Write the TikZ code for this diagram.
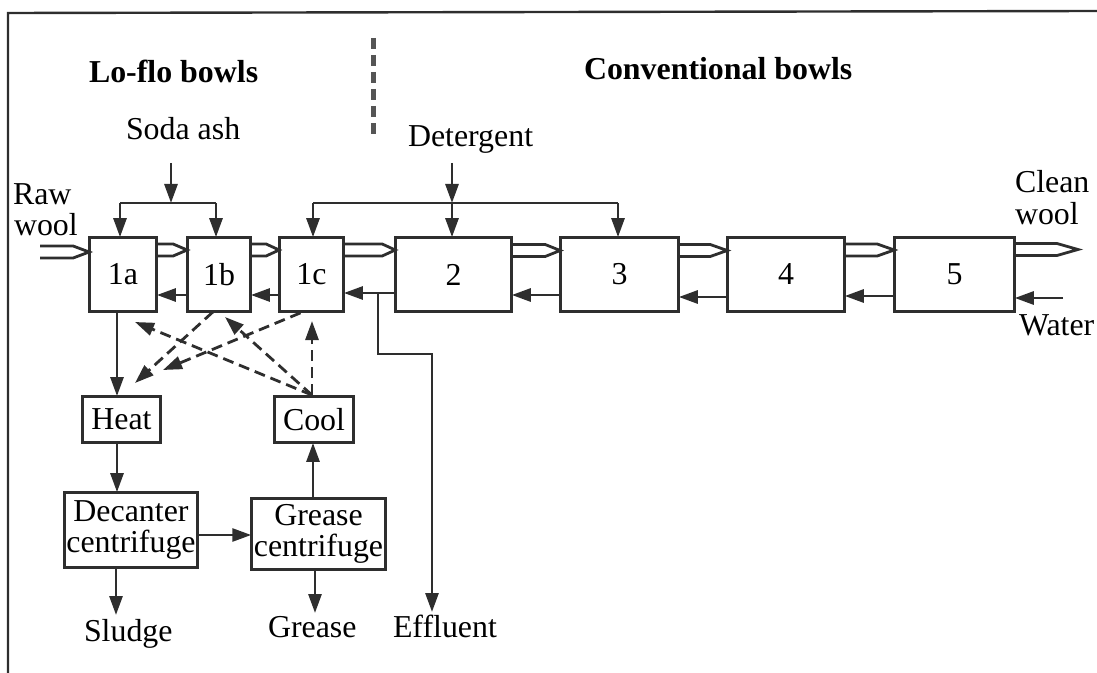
\documentclass[tikz,border=0pt]{standalone}
\usepackage{fontspec}
\setmainfont{Liberation Serif}
\usetikzlibrary{arrows.meta,calc}
\definecolor{dk}{HTML}{2E2E2E}
\definecolor{sep}{HTML}{555555}
\newcommand\woolarrow[3]{\draw[ln, line join=miter] ($(#1)+(0,-6)$) -- ($(#2)+(-#3,-6)$) -- (#2) -- ($(#2)+(-#3,6)$) -- ($(#1)+(0,6)$);}
\begin{document}
\begin{tikzpicture}[x=1bp,y=-1bp,
  every node/.style={font=\fontsize{32}{31}\selectfont, inner sep=0pt, outer sep=0pt},
  ln/.style={line width=2.8bp, draw=dk},
  arr/.style={ln, -{Triangle[length=19bp,width=13bp]}},
  darr/.style={arr, dash pattern=on 11bp off 6bp},
  box/.style={draw=dk, line width=3bp, rectangle, align=center},
  lbl/.style={anchor=base west},
  hdr/.style={anchor=base west, font=\fontsize{32}{31}\selectfont\bfseries}]
\useasboundingbox (0,0) rectangle (1097,673);
% frame
\draw[line width=2.4bp, draw=dk] (8,673) -- (8,13) -- (1097,11);
% separator
\draw[line width=5bp, draw=sep, dash pattern=on 11bp off 6bp] (373,38) -- (373,135);
% headers and labels
\node[hdr] (lofl) at (89,83) {Lo-flo bowls};
\node[hdr] (conv) at (584,80) {Conventional bowls};
\node[lbl] (soda) at (126,140) {Soda ash};
\node[lbl] (det) at (408,147) {Detergent};
\node[lbl] (raw) at (13,205) {Raw};
\node[lbl] (raww) at (14,235) {wool};
\node[lbl] (clean) at (1015,193) {Clean};
\node[lbl] (cleanw) at (1015,224) {wool};
\node[lbl] (water) at (1019,335) {Water};
\node[lbl] (sludge) at (84,641) {Sludge};
\node[lbl] (grease) at (268,637) {Grease};
\node[lbl] (effl) at (393,637) {Effluent};
% boxes
\node[box, minimum width=68, minimum height=75] (b1a) at (123,274.5) {1a};
\node[box, minimum width=64, minimum height=75] (b1b) at (219,274.5) {1b};
\node[box, minimum width=65, minimum height=75] (b1c) at (311.5,274.5) {1c};
\node[box, minimum width=117, minimum height=75] (b2) at (453.5,274.5) {2};
\node[box, minimum width=119, minimum height=75] (b3) at (619.5,274.5) {3};
\node[box, minimum width=118, minimum height=75] (b4) at (786,274.5) {4};
\node[box, minimum width=121, minimum height=75] (b5) at (954.5,274.5) {5};
\node[box, minimum width=79, minimum height=47] (heat) at (121.5,419.5) {Heat};
\node[box, minimum width=80, minimum height=47] (cool) at (314,419.5) {Cool};
\node[box, minimum width=134, minimum height=76] (dec) at (131,530) {Decanter\\centrifuge};
\node[box, minimum width=135, minimum height=72] (gc) at (318.5,534) {Grease\\centrifuge};
% soda ash feed
\coordinate (sj) at (171,203);
\draw[arr] (171,163) -- (sj);
\draw[ln] (120,203) -- (216,203);
\draw[arr] (120,203) -- (b1a.north -| 120,203);
\draw[arr] (216,203) -- (b1b.north -| 216,203);
% detergent feed
\coordinate (dj) at (452,203);
\draw[arr] (452,163) -- (dj);
\draw[ln] (313,203) -- (618,203);
\draw[arr] (dj) -- (b2.north -| dj);
\draw[arr] (313,203) -- (b1c.north -| 313,203);
\draw[arr] (618,203) -- (b3.north -| 618,203);
% wool flow
\coordinate (rw) at (40,252);
\coordinate (rwe) at ($(b1a.west)+(0,-22.5)$);
\woolarrow{rw}{rwe}{16}
\coordinate (w1s) at ($(b1a.east)+(0,-24.5)$);
\coordinate (w1e) at ($(b1b.west)+(0,-24.5)$);
\woolarrow{w1s}{w1e}{14}
\coordinate (w2s) at ($(b1b.east)+(0,-24.5)$);
\coordinate (w2e) at ($(b1c.west)+(0,-24.5)$);
\woolarrow{w2s}{w2e}{13}
\coordinate (w3s) at ($(b1c.east)+(0,-24.5)$);
\coordinate (w3e) at ($(b2.west)+(0,-24.5)$);
\woolarrow{w3s}{w3e}{13}
\coordinate (w4s) at ($(b2.east)+(0,-24)$);
\coordinate (w4e) at ($(b3.west)+(0,-24)$);
\woolarrow{w4s}{w4e}{15}
\coordinate (w5s) at ($(b3.east)+(0,-24)$);
\coordinate (w5e) at ($(b4.west)+(0,-24)$);
\woolarrow{w5s}{w5e}{17}
\coordinate (w6s) at ($(b4.east)+(0,-24.5)$);
\coordinate (w6e) at ($(b5.west)+(0,-24.5)$);
\woolarrow{w6s}{w6e}{17}
\coordinate (w7s) at ($(b5.east)+(0,-25)$);
\coordinate (w7e) at (1078,249.5);
\woolarrow{w7s}{w7e}{21}
% counter-current water
\draw[arr] ($(b1b.west)+(0,20.5)$) -- ($(b1a.east)+(0,20.5)$);
\draw[arr] ($(b1c.west)+(0,20.5)$) -- ($(b1b.east)+(0,20.5)$);
\draw[arr] ($(b2.west)+(0,18.5)$) -- ($(b1c.east)+(0,18.5)$);
\draw[arr] ($(b3.west)+(0,20.5)$) -- ($(b2.east)+(0,20.5)$);
\draw[arr] ($(b4.west)+(0,22.5)$) -- ($(b3.east)+(0,22.5)$);
\draw[arr] ($(b5.west)+(0,21.5)$) -- ($(b4.east)+(0,21.5)$);
\draw[arr] (1063,298) -- (1063,298 -| b5.east);
% effluent
\coordinate (ej) at (378,293);
\draw[arr] (ej) -- (378,354) -- (432,354) -- (432,612);
% lo-flo loop
\draw[arr] (117,0 |- b1a.south) -- (117,0 |- heat.north);
\draw[darr] ($(b1b.south)+(-6,0)$) -- (135,383);
\draw[darr] ($(b1c.south)+(-11,1)$) -- (163,370);
\coordinate (cj) at ($(cool.north)+(-2,-1)$);
\draw[darr] (cj) -- (135,322);
\draw[darr] (cj) -- (225,317);
\draw[darr] (cj) -- (312,321);
\draw[arr] (117,0 |- heat.south) -- (117,0 |- dec.north);
\draw[arr] (dec.east |- 0,535) -- (gc.west |- 0,535);
\draw[arr] (313,0 |- gc.north) -- (313,0 |- cool.south);
\draw[arr] (116,0 |- dec.south) -- (116,615);
\draw[arr] (315,0 |- gc.south) -- (315,613);
\end{tikzpicture}
\end{document}
